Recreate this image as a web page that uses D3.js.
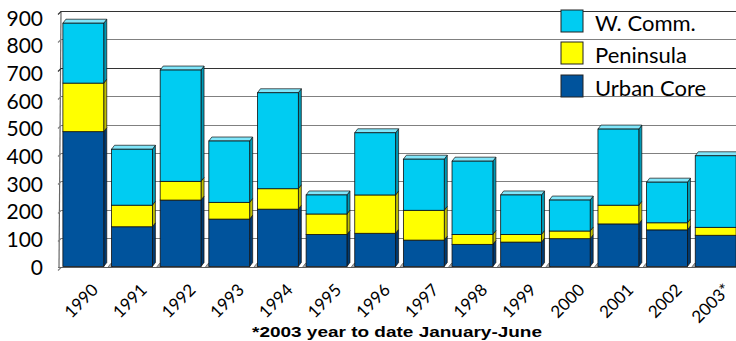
<!DOCTYPE html>
<html>
<head>
<meta charset="utf-8">
<script src="https://cdn.jsdelivr.net/npm/d3@7"></script>
<style>
body{margin:0;background:#fff;}
svg{display:block;}
</style>
</head>
<body>
<script>
// data
var years = ['1990','1991','1992','1993','1994','1995','1996','1997','1998','1999','2000','2001','2002','2003*'];
var urbanCore = [475,140,234,167,202,113,117,93,78,86,98,150,129,110];
var peninsula = [171,76,66,59,72,72,135,105,35,27,27,66,25,28];
var wComm = [211,197,392,216,338,67,219,180,258,139,109,268,143,252];
var yTicks = [0,100,200,300,400,500,600,700,800,900];
var seriesNames = ['Urban Core','Peninsula','W. Comm.'];
var footnote = '*2003 year to date January-June';

var width = 736,
	height = 341,
	depthX = 3,
	depthY = -4;

var colors = {
	'Urban Core':{front:'#00539c',side:'#003a70',top:'#3f7fbf'},
	'Peninsula':{front:'#ffff00',side:'#bfbf00',top:'#ffff80'},
	'W. Comm.':{front:'#00ccf2',side:'#0099b5',top:'#80e6fa'}
};

var svg = d3.select('body').append('svg')
			.attr('width',width)
			.attr('height',height)
			.style('font-family','Lato, "Open Sans", sans-serif');

var scale_x = d3.scaleBand().domain(years).range([59,740]).paddingInner(0.16).paddingOuter(0.08);
var scale_y = d3.scaleLinear().domain([0,900]).range([266.5,11]);
// 刻度文字位置（比网格线略低）
var scale_label = d3.scaleLinear().domain([0,900]).range([267,18]);

//背景墙 + 网格线
svg.append('line')
	.attr('x1',61).attr('y1',scale_y(900))
	.attr('x2',59).attr('y2',scale_y(0)+1)
	.attr('stroke','#666').attr('stroke-width',1.2);

svg.selectAll('.grid').data(yTicks).enter().append('path')
	.attr('class','grid')
	.attr('d',function(d){var y = Math.round(scale_y(d))+0.5; return 'M58,'+(y+3)+'L61,'+y+'L736,'+y;})
	.attr('fill','none')
	.attr('stroke',function(d){return d==700||d==900 ? '#333' : '#808080';})
	.attr('stroke-width',1.2);

// y axis labels
svg.selectAll('.ylab').data(yTicks).enter().append('text')
	.attr('class','ylab')
	.attr('x',43)
	.attr('y',function(d){return scale_label(d);})
	.attr('dy','0.36em')
	.attr('text-anchor','end')
	.attr('font-size',21)
	.attr('fill','#000')
	.text(function(d){return d;});

// floor marks between bars
var floorY = scale_y(0)+1;
svg.selectAll('.floor').data(years).enter().append('path')
	.attr('class','floor')
	.attr('d',function(d){
		var x = scale_x(d)+scale_x.bandwidth()+depthX+1;
		return 'M'+x+','+floorY+'L'+(x+3)+','+(floorY-4)+'L'+(x+7)+','+(floorY-4)+'L'+(x+4)+','+floorY+'Z';
	})
	.attr('fill','#aaa').attr('stroke','#444').attr('stroke-width',0.6);
svg.append('line')
	.attr('x1',58).attr('x2',736).attr('y1',floorY).attr('y2',floorY)
	.attr('stroke','#555').attr('stroke-width',0.8);

// stack
var table = years.map(function(y,i){return {year:y,'Urban Core':urbanCore[i],'Peninsula':peninsula[i],'W. Comm.':wComm[i]};});
var stacked = d3.stack().keys(seriesNames)(table);

var bw = scale_x.bandwidth();
stacked.forEach(function(layer,li){
	var c = colors[layer.key];
	var g = svg.append('g').attr('class','layer');
	layer.forEach(function(seg){
		var x0 = scale_x(seg.data.year),
			yTop = scale_y(seg[1]),
			yBot = scale_y(seg[0]);
		// side face
		g.append('path')
			.attr('d','M'+(x0+bw)+','+yBot+'L'+(x0+bw+depthX)+','+(yBot+depthY)+'L'+(x0+bw+depthX)+','+(yTop+depthY)+'L'+(x0+bw)+','+yTop+'Z')
			.attr('fill',c.side).attr('stroke','#111').attr('stroke-width',0.7);
		// top face only on the last layer
		if(li==stacked.length-1){
			g.append('path')
				.attr('d','M'+x0+','+yTop+'L'+(x0+depthX)+','+(yTop+depthY)+'L'+(x0+bw+depthX)+','+(yTop+depthY)+'L'+(x0+bw)+','+yTop+'Z')
				.attr('fill',c.top).attr('stroke','#111').attr('stroke-width',0.7);
		}
		g.append('rect')
			.attr('x',x0).attr('y',yTop)
			.attr('width',bw).attr('height',yBot-yTop)
			.attr('fill',c.front).attr('stroke','#111').attr('stroke-width',0.8);
	});
});

// x labels rotated
svg.selectAll('.xlab').data(years).enter().append('text')
	.attr('class','xlab')
	.attr('transform',function(d){return 'translate('+(scale_x(d)+bw/2+16)+',291) rotate(-45)';})
	.attr('text-anchor','end')
	.attr('font-size',17)
	.attr('fill','#000')
	.text(function(d){return d;});

// legend
var legendNames = ['W. Comm.','Peninsula','Urban Core'];
var legendY = [10,42,75];
var leg = svg.selectAll('.leg').data(legendNames).enter().append('g').attr('class','leg')
	.attr('transform',function(d,i){return 'translate(561,'+legendY[i]+')';});
leg.append('rect').attr('width',22).attr('height',22)
	.attr('fill',function(d){return colors[d].front;})
	.attr('stroke','#222').attr('stroke-width',1);
leg.append('text').attr('x',34).attr('y',21)
	.attr('font-size',22).attr('fill','#000')
	.text(function(d){return d;});

// footnote
svg.append('text')
	.attr('x',252).attr('y',337)
	.attr('font-family','"Liberation Sans", Arial, sans-serif')
	.attr('font-weight','bold')
	.attr('font-size',15)
	.attr('textLength',290)
	.attr('lengthAdjust','spacingAndGlyphs')
	.text(footnote);
</script>
</body>
</html>
